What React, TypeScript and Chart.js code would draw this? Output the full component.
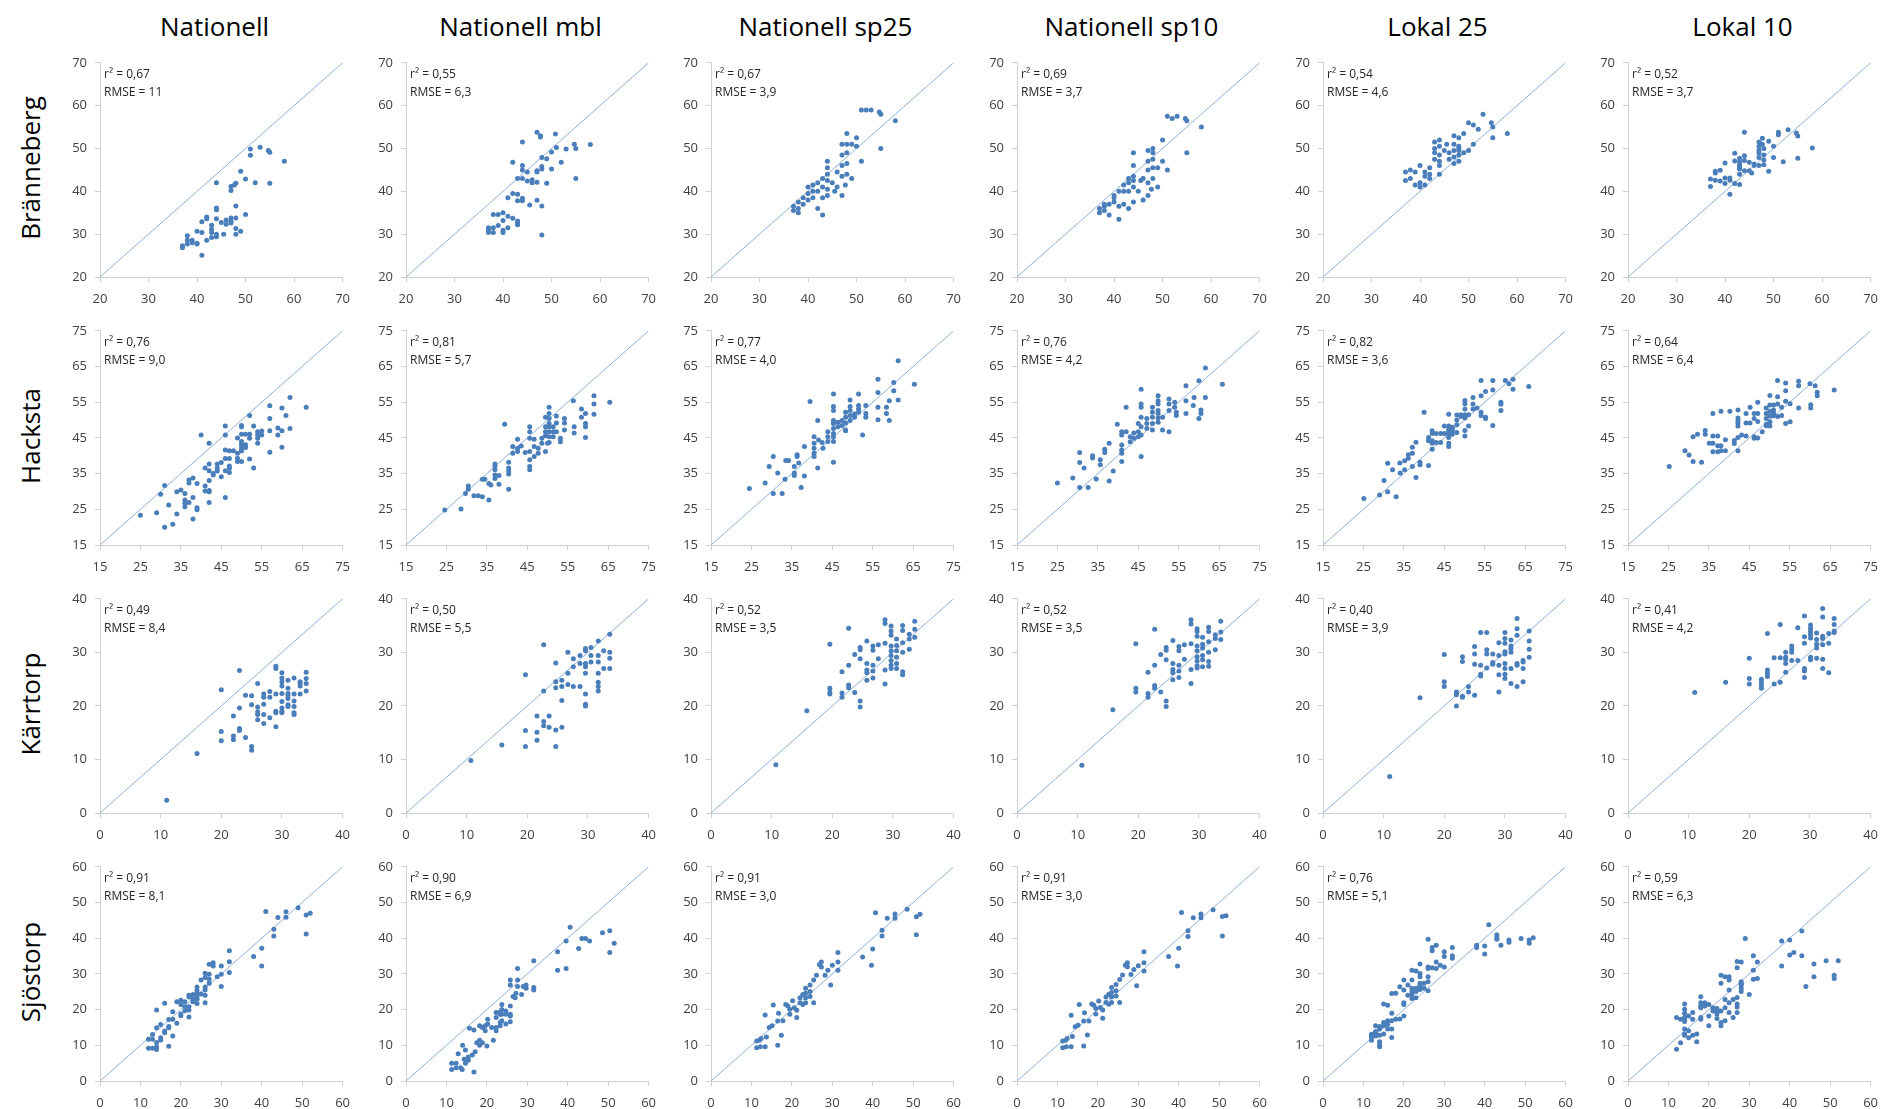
import React, { useEffect, useRef } from "react";
import { Chart, registerables } from "chart.js";

Chart.register(...registerables);

const FONT = "'Open Sans', 'Liberation Sans', sans-serif";

type Pt = [number, number];

const rowNames = ["Bränneberg", "Hacksta", "Kärrtorp", "Sjöstorp"];
const methodNames = ["Nationell", "Nationell mbl", "Nationell sp25", "Nationell sp10", "Lokal 25", "Lokal 10"];

const ticksBranneberg = [20, 30, 40, 50, 60, 70];
const ticksHacksta = [15, 25, 35, 45, 55, 65, 75];
const ticksKarrtorp = [0, 10, 20, 30, 40];
const ticksSjostorp = [0, 10, 20, 30, 40, 50, 60];

const r2Branneberg = ["0,67", "0,55", "0,67", "0,69", "0,54", "0,52"];
const r2Hacksta = ["0,76", "0,81", "0,77", "0,76", "0,82", "0,64"];
const r2Karrtorp = ["0,49", "0,50", "0,52", "0,52", "0,40", "0,41"];
const r2Sjostorp = ["0,91", "0,90", "0,91", "0,91", "0,76", "0,59"];

const rmseBranneberg = ["11", "6,3", "3,9", "3,7", "4,6", "3,7"];
const rmseHacksta = ["9,0", "5,7", "4,0", "4,2", "3,6", "6,4"];
const rmseKarrtorp = ["8,4", "5,5", "3,5", "3,5", "3,9", "4,2"];
const rmseSjostorp = ["8,1", "6,9", "3,0", "3,0", "5,1", "6,3"];

// ---------- Bränneberg ----------
const brNationell: Pt[] = [[37,27.3],[37,26.8],[38,29.6],[38,28.6],[38,27.7],[39,28.6],[39,28],[40,30.7],[40,27.9],[40,27.7],[41,32.9],[41,30.4],[41,25.1],[42,34],[42,33.6],[42,28.6],[43,32.1],[43,31.1],[43,30.4],[43,29.2],[44,42],[44,36.1],[44,35.7],[44,33.6],[44,30],[44,29.4],[45,32.7],[45.5,30],[46,33.3],[46,32.3],[47,41.1],[47,40.2],[47,33.8],[47,33],[47,32.6],[47.7,41.5],[48,41.9],[48,36.6],[48,33.8],[48,31.3],[48,30],[49,44.7],[49,30.7],[50,42.9],[50,34.6],[51,49.9],[51,48.4],[52,42],[53,50.3],[54.7,49.5],[55,49.1],[55,41.9],[58,47]];
const brMbl: Pt[] = [[37,31.5],[37,31],[37,30.4],[38,31.5],[38,30.4],[38,34.6],[39,34.6],[39,32],[40,35],[40,33.2],[40,30.9],[40,30.4],[41,38.5],[41,34.2],[41,31.5],[42,39.5],[42,33.7],[42,46.8],[43,43],[43,39.3],[43,37.8],[43,33.1],[43,32.6],[43,32.2],[44,51.5],[44,46],[44,45],[44,43],[44,38.4],[44,37.8],[45,44.5],[45,42.4],[45.5,36.8],[46,42.7],[46,42],[47,53.8],[47,44.8],[47,44.5],[47,42.1],[47,37.9],[47.7,53],[47.7,52.7],[48,47.9],[48,45.8],[48,45.2],[48,36.6],[48,29.8],[49,47.6],[49,41.9],[50,49.2],[50,45.2],[50.8,53.4],[51,50.2],[52,46.8],[53,49.9],[54.7,51],[55,50],[55,43],[58,50.9]];
const brSp25: Pt[] = [[37,35.5],[37,36.5],[38,36],[38,37.5],[38,35],[39,37],[39,38.5],[40,38],[40,39.5],[40,41],[41,38.5],[41,40],[41,41.5],[42,36],[42,40],[42,42],[43,34.5],[43,38.5],[43,41],[43,43],[44,39],[44,40.5],[44,42.5],[44,44],[44,45.5],[44,47],[45,42],[45.5,40],[46,41],[46,44.5],[47,39],[47,43.5],[47,46],[47,48.5],[47,51],[47.7,41.5],[48,44],[48,46.5],[48,49],[48,51],[48,53.5],[49,43],[49,51],[50,50.5],[50,52.5],[51,59],[51,47],[52,59],[53,59],[54.7,58.5],[55,50],[55,58],[58,56.5]];
const brSp10: Pt[] = [[37,36],[37,35],[38,36.5],[38,35.5],[38,37],[39,37],[39,34.5],[40,37.5],[40,38.5],[40,39],[41,33.5],[41,40],[41,36.5],[42,37],[42,40],[42,41.5],[43,36],[43,40],[43,42],[43,43],[44,37.5],[44,41],[44,42.5],[44,46],[44,49],[44,43.5],[45,40],[45.5,42.5],[46,38],[46,43],[47,39],[47,42],[47,45],[47,47],[47,49.5],[47.7,40.5],[48,43],[48,45.5],[48,47.5],[48,50],[48,49],[49,41],[49,45.5],[50,47],[50,52],[51,57.5],[51,45],[52,57],[53,57.5],[54.7,57],[55,49],[55,56.5],[58,55]];
const brLokal25: Pt[] = [[37,44.5],[37,42.5],[38,45],[38,43],[39,44.5],[39,41.5],[40,46],[40,42],[40,41],[41,43.5],[41,44.5],[41,41.5],[42,45.5],[42,44],[42,43],[43,51.5],[43,50],[43,49],[43,47.5],[44,52],[44,48.5],[44,50.5],[44,46],[44,47],[44,44],[45,49.5],[45.5,51],[46,49],[46,47.5],[47,53],[47,51],[47,49.5],[47,48],[47,46.5],[48,52.5],[48,50],[48,48.5],[48,47],[48,50.5],[48,49.5],[49,53.5],[49,49],[50,56],[50,49.5],[51,55.5],[51,51],[52,54.5],[53,58],[54.7,56],[55,55],[55,52.5],[58,53.5]];
const brLokal10: Pt[] = [[37,42.9],[37,41.1],[38,44.7],[38,44.3],[38,42.6],[39,44.9],[39,42.4],[40,46.6],[40,43.1],[40,41.8],[41,43.1],[41,42.6],[41,39.3],[42,48.9],[42,47.1],[42,41.8],[43,47.7],[43,46.9],[43,46.2],[43,45.6],[43,45.2],[43,44],[43,41.6],[44,53.8],[44,48.3],[44,47.2],[44,44.8],[45,46.8],[45,44.8],[45.5,44.3],[46,46.4],[46,46],[47,51.5],[47,50.5],[47,49.6],[47,48.9],[47,47.9],[47,46],[47.7,52.4],[47.7,51],[48,50],[48,48.5],[48,47.3],[48,46.2],[49,51.7],[49,44.7],[50,50.5],[50,47.9],[51,53.8],[51,53.2],[52,46.9],[53,54.4],[54.7,53.6],[55,52.9],[55,47.7],[58,50.1]];

// ---------- Hacksta ----------
const haNationell: Pt[] = [[25,23.3],[29,24],[30,29.2],[31,31.7],[31,20],[32,26.2],[33,20.8],[34,23.7],[34,29.9],[35,30.4],[36,29.4],[36,27.6],[36,26.7],[36,25.7],[37,33.2],[37,32.4],[37,26.9],[38,33.8],[38,28.3],[38,22.3],[39,32.2],[39,25.4],[39,24.9],[40,45.8],[41,36.6],[41,31.5],[41,30.1],[42,43.5],[42,37.7],[42,35.8],[42,33.1],[42,30.3],[42,29.9],[42,26.9],[43,35],[43,34.6],[44,37.7],[44,36.6],[44,35.7],[45,38.1],[45,34.1],[46,48.3],[46,45.8],[46,41.6],[46,39.2],[46,35.8],[46,28.3],[47,41.4],[47,39.2],[47,37.1],[47,36.5],[47,35.3],[48,41.4],[49,45],[49,40.7],[49,39.3],[49,38.4],[50,48.5],[50,48.1],[50,46],[50,44],[50,43.1],[50,42.2],[50,41.3],[50,38.4],[51,46],[51,43.1],[51,42.3],[52,51.3],[52,46],[52,44.9],[52,39.1],[53,48.3],[53,36.6],[54,46.7],[54,45.8],[54,44.9],[54,43.5],[55,46.9],[55,45.8],[57,54],[57,50.4],[57,47],[57,41],[59,45.8],[59,47.8],[60,53.4],[60,47],[60,42.4],[61,51.3],[62,56.3],[62,47.6],[66,53.6]];
const haMbl: Pt[] = [[24.6,24.8],[28.6,25.1],[29.7,29.4],[30.4,30.6],[30.4,31.5],[31.8,28.8],[32.9,28.8],[33.9,28.5],[33.9,33.4],[34.5,33.4],[35.5,27.6],[35.5,32.2],[36,31.8],[37,33.6],[37,34.6],[37,36.1],[37,37],[37,37.7],[38,32],[38,34.5],[39.4,48.8],[40.4,38.2],[40.4,36.6],[40.4,35.7],[40.4,34.9],[40.4,30.6],[41.4,40.7],[41.4,42.6],[42.6,44.6],[42.6,41.2],[42.6,42.1],[43.5,42.7],[44.5,40.9],[45.6,48.1],[45.6,46.7],[45.6,44.9],[45.6,41.2],[45.6,38.9],[45.6,37],[45.6,36.1],[46.7,44.6],[46.7,42.6],[46.7,39.8],[47.7,42.1],[47.7,40.7],[48.6,43.5],[48.6,44.9],[49.5,50.8],[49.5,48.1],[49.5,46.7],[49.5,45.6],[49.5,41.2],[50,43.5],[50.4,53.6],[50.4,51.8],[50.4,50.4],[50.4,49],[50.4,48.1],[50.4,46.7],[50.4,45.3],[50.4,43.7],[51.4,48.1],[51.4,46.7],[51.4,45.3],[52.2,51.1],[52.2,49.2],[52.2,46.7],[53.2,44.9],[53.2,43.9],[54.2,50.4],[54.2,49.2],[54.2,47.2],[56.4,55.4],[56.6,48.1],[56.6,46.4],[58.4,53.1],[58.4,50.8],[59.4,45.1],[59.4,51.8],[59.4,49],[59.4,48.1],[61.5,56.8],[61.5,54.5],[61.5,51.6],[65.4,55]];
const haSp25: Pt[] = [[24.5,30.8],[28.4,32.4],[29.4,37],[30.4,39.8],[30.4,29.4],[32.6,29.4],[31.5,35.2],[33.3,33.4],[33.5,38.7],[34.2,38.7],[35.6,37],[35.6,35.2],[35.6,34.5],[36.3,40.3],[36.3,39.8],[36.7,38],[37.3,31.1],[38.1,42.6],[38.1,34.3],[39.5,55.2],[40.5,45.3],[40.5,43.5],[40.5,42.1],[40.5,40.7],[40.5,39.8],[41.4,49.9],[41.4,36.6],[41.6,44.4],[42.5,43.7],[42.7,42.1],[43.9,46.7],[43.9,45.3],[43.9,44],[45.3,57.3],[45.3,53.8],[45.3,52.7],[45.3,49.9],[45.3,49],[45.3,47.6],[45.3,46.2],[45.3,45.3],[45.3,44],[45.3,38.2],[46.4,49.4],[46.4,48.1],[47.4,49.9],[47.4,48.5],[48.3,52.2],[48.3,50.8],[48.3,49.2],[48.3,47.2],[48.3,47],[49.4,55.6],[49.4,53.8],[49.4,52.7],[49.4,51.3],[49.4,49.9],[50.5,51.7],[50.5,50.8],[51.5,57.3],[51.5,54.1],[51.5,53.1],[51.5,52.2],[52.5,45.8],[53.3,54.1],[53.3,51.8],[53.3,50.8],[56.3,61.4],[56.3,57.7],[56.3,53.6],[56.3,50.1],[58.4,51.8],[58.4,53.6],[59.1,55.4],[59.1,49.9],[60.2,58.2],[60.2,60.5],[61.3,66.6],[61.3,55.6],[65.3,60]];
const haSp10: Pt[] = [[25,32.4],[28.8,33.8],[30.5,40.9],[30.5,38.1],[30.5,31.1],[32.6,31.1],[31.6,36.6],[33.7,40],[33.7,39.4],[34.6,33.5],[35.6,38.9],[35.6,37.5],[36.7,41.8],[36.7,40.9],[37.8,43.5],[37.8,32.9],[38.8,35.7],[39.8,48.8],[40.9,46.7],[40.9,45.8],[40.9,43],[40.9,41.6],[40.9,40.7],[40.9,38.4],[42,53.6],[42,46.7],[43,45.3],[43,43.9],[43.9,46.4],[43.9,44.9],[45,49],[45,46.7],[45,45.3],[45.7,58.6],[45.7,54.5],[45.7,53.6],[45.7,50.8],[45.7,48.1],[45.7,45.8],[45.7,39.8],[47.1,50.4],[47.1,49],[47.1,47.6],[48.5,53.6],[48.5,52.2],[48.5,50.8],[48.5,49],[48.5,47.2],[49.9,56.8],[49.9,55.4],[49.9,54.5],[49.9,52.7],[49.9,51.8],[49.9,50.6],[49.9,49.4],[51,50.8],[51,47.2],[52.6,55.9],[52.6,52.7],[52.6,54.5],[52.6,46.7],[54,55],[54,53.6],[54.4,52.2],[54.4,51.3],[56.8,59.6],[56.8,55.4],[56.8,51.8],[58.6,54.1],[58.8,56.3],[60,61],[60,50.4],[60.5,51.8],[60.5,52.8],[61.6,64.6],[61.6,56.3],[65.8,60]];
const haLokal25: Pt[] = [[25.1,28],[29,29],[30.1,33.1],[31,29.9],[31,37.9],[32.2,36.1],[33.1,28.5],[34,38],[34.1,35.2],[35.2,38.6],[35.2,36.1],[36.1,40.3],[36.1,39.3],[37.1,40.7],[37.1,42.4],[37.1,37],[38,43.8],[38,33.9],[39,38.2],[39,37.5],[40,52.2],[41.1,45.1],[41.1,44.2],[41.1,37.3],[42,47],[42,46.2],[42,44.2],[42,43.5],[42,41.8],[43,46.2],[43,43.7],[44.1,46.2],[44.1,43.7],[45,48.3],[45,46.2],[46.1,51.6],[46.1,42.6],[46.1,43.5],[46.1,48.3],[46.1,47.8],[46.1,47.1],[46.1,46.5],[46.1,45.8],[46.1,45.1],[47,47.1],[47,48],[47,46],[48.1,51.4],[48.1,50],[48.1,48.7],[48.1,46.5],[49.1,51.5],[49.1,51],[50.1,55.5],[50.1,54.6],[50.1,53.1],[50.1,51.5],[50.1,50.6],[50.1,47.1],[50.1,45.5],[51,51.5],[51,48.3],[52.1,56.3],[52.1,54.5],[52.1,53.1],[53.1,53.4],[54.1,61.1],[54.1,56.8],[54.1,52.2],[54.1,51.3],[55.2,58],[55.2,50.8],[55.2,50.4],[57,61.1],[57,58.4],[57,48.5],[59,55],[59,54.4],[59,52.7],[60.1,61.1],[61,60.2],[62,61.4],[62,58.6],[65.9,59.4]];
const haLokal10: Pt[] = [[25.2,37],[29.1,41.4],[30.1,40.2],[31.1,38.4],[31.1,45.3],[32.2,46],[33.2,38.2],[34.1,47.1],[34.1,46],[35.1,43.5],[36,51.8],[36,45.5],[36,43.5],[36,41.1],[37.2,45.5],[37.2,42.8],[37.2,41.1],[38,52.5],[38,41.4],[38,42.8],[39.1,44.5],[39.1,41.4],[40.2,52.5],[41.3,44.3],[41.3,43.4],[42.2,52.8],[42.2,50.6],[42.2,49.8],[42.2,49.2],[42.2,48.3],[42.2,45.1],[42.2,41.4],[43.1,45.8],[44.2,51.8],[44.2,49.2],[44.2,45.5],[45.2,53.6],[45.2,49.2],[46.2,51.8],[46.2,50.4],[46.2,45.3],[46.2,44.9],[47.1,55],[47.1,51.8],[47.1,49.6],[47.1,45],[48.2,46.7],[49.2,53.4],[49.2,51.8],[49.2,50.4],[49.2,48.8],[49.2,48.4],[50.1,56.9],[50.1,54.2],[50.1,52.5],[50.1,51.1],[50.1,49.5],[50.1,48.3],[51,54.2],[51,52.8],[51,51.9],[51,51.2],[52,61.1],[52,56.5],[52,54.5],[52,51],[53,53.6],[53,51.3],[54,60.4],[54,58.2],[54,55.3],[54,49],[55.1,54.6],[55.1,49.5],[57.2,60.9],[57.2,59.6],[57.2,53.4],[60,60.2],[61.3,59.6],[61.8,57.8],[61.8,56.8],[60.2,54.3],[60.2,53.4],[66,58.4]];

// ---------- Kärrtorp ----------
const kaNationell: Pt[] = [[11,2.4],[16,11.1],[20,23],[20,15.2],[20,13.5],[22,18.1],[22,14.4],[22,13.7],[23,26.6],[23,19.6],[23,15.8],[23,15.4],[24,22],[24,14.1],[25,21.9],[25,20.2],[25,12.4],[25,11.7],[26,24.2],[26,19.8],[26,18.9],[26,18.4],[26,17.4],[27,22.2],[27,21.6],[27,20.3],[27,18.4],[27,16.7],[28,22.7],[28,21.6],[28,17.8],[29,27.4],[29,27],[29,22.2],[29,19],[29,18.7],[29,16.1],[30,26.2],[30,25.2],[30,24.5],[30,23.7],[30,22.3],[30,20.8],[30,19.6],[30,19],[30,18.7],[31,24.8],[31,23.3],[31,22.3],[31,21.9],[31,21.4],[31,20.2],[31,19.9],[32,25.2],[32,22.2],[32,20.9],[32,19.9],[32,18.7],[32,18.4],[33,24.5],[33,24.2],[33,23.7],[33,22.2],[34,26.3],[34,25.1],[34,24.2],[34,22.8]];
const kaMbl: Pt[] = [[10.7,9.8],[15.8,12.7],[19.7,25.8],[19.7,15.4],[19.7,12.4],[21.6,18.1],[21.6,15.1],[21.6,13.6],[22.7,31.4],[22.7,22.8],[22.7,17.1],[22.7,16.3],[23.6,18.1],[23.6,16],[24.7,28],[24.7,24.5],[24.7,23.4],[24.7,15.5],[24.7,12.4],[25.7,24.8],[25.7,23.6],[25.7,21],[25.7,16],[26.7,30],[26.7,26.1],[26.7,24],[27.6,28.8],[27.6,27.3],[27.6,23.6],[28.7,27.9],[28.7,23.6],[28.7,29.4],[29.6,20],[29.6,20.3],[29.6,30.7],[29.6,30.3],[29.6,27.9],[29.6,27.3],[29.6,26.1],[29.6,22.2],[30.5,30.9],[30.5,28.2],[30.5,29.4],[31.7,32.1],[31.7,29.4],[31.7,28.2],[31.7,26.1],[31.7,24.4],[31.7,23.6],[31.7,22.8],[32.6,30.3],[32.6,27],[33.6,33.4],[33.6,30],[33.6,28.9],[33.6,27]];
const kaSp25: Pt[] = [[10.7,9],[15.8,19.1],[19.6,31.5],[19.6,23.3],[19.6,22.6],[19.6,22.2],[21.6,26.4],[21.6,22.4],[21.6,21.6],[22.7,34.5],[22.7,27.6],[22.7,23.9],[22.7,23.4],[23.7,29.6],[23.7,22.5],[24.6,30.9],[24.6,30.5],[24.6,28.8],[24.6,20.9],[24.6,19.8],[25.7,32.1],[25.7,27.9],[25.7,26.7],[25.7,26.2],[25.7,24.8],[26.7,31.2],[26.7,30.4],[26.7,27.6],[26.7,26.5],[26.7,25.2],[27.6,31.4],[27.6,28.8],[28.7,31.7],[28.7,24.1],[28.7,36.1],[28.7,35.4],[28.7,26.7],[29.7,34.9],[29.7,34],[29.7,33.2],[29.7,31.2],[29.7,30.3],[29.7,29.4],[29.7,28.5],[29.7,27.6],[29.7,27],[30.6,32.5],[30.6,31.3],[30.6,30.3],[30.6,29.1],[30.6,27.9],[30.6,27],[31.6,35],[31.6,34.1],[31.6,31.8],[31.6,30],[31.6,26.4],[31.6,25.8],[32.7,33.4],[32.7,32.5],[32.7,30.6],[33.6,35.8],[33.6,34.3],[33.6,32.8]];
const kaSp10: Pt[] = [[10.7,8.9],[15.8,19.3],[19.6,31.6],[19.6,23.3],[19.6,22.6],[21.6,26.3],[21.6,22.3],[21.6,21.6],[22.7,34.3],[22.7,27.6],[22.7,23.8],[22.7,23.3],[23.7,29.6],[23.7,22.6],[24.6,30.9],[24.6,30.4],[24.6,28.6],[24.6,20.9],[24.6,19.9],[25.7,32.2],[25.7,27.9],[25.7,26.8],[25.7,26.2],[25.7,24.9],[26.7,31.1],[26.7,30.3],[26.7,27.6],[26.7,26.5],[26.7,25.3],[27.6,31.4],[27.6,28.7],[28.7,31.6],[28.7,24.2],[28.7,36.1],[28.7,35.3],[28.7,26.8],[29.7,34.4],[29.7,33.9],[29.7,33],[29.7,31.2],[29.7,30.3],[29.7,29.2],[29.7,28.4],[29.7,27.5],[29.7,27.1],[30.6,32.8],[30.6,31.5],[30.6,30.8],[30.6,29.4],[30.6,28.6],[30.6,27.3],[31.6,34.7],[31.6,33.9],[31.6,32],[31.6,30],[31.6,28.3],[31.6,27.4],[32.7,33.3],[32.7,32.6],[32.7,30.5],[33.6,35.8],[33.6,33.8],[33.6,32.4]];
const kaLokal25: Pt[] = [[11,6.8],[16,21.5],[20,29.6],[20,24.5],[20,23.6],[22,22.6],[22,22.1],[22,20],[23,29.2],[23,28.3],[23,21.8],[23,21.6],[24,23.6],[24,22.6],[25,31.1],[25,27.8],[25,29.7],[25,22],[26,33.7],[26,27.6],[26,25.9],[26,25.6],[27,33.7],[27,30.5],[27,29.7],[27,27.1],[28,29.7],[28,28.1],[28,27.8],[29,31.8],[29,29.4],[29,27.6],[29,25.8],[29,22.6],[30,33.7],[30,32.6],[30,31.7],[30,30.1],[30,29.7],[30,27.9],[30,27],[30,25.9],[30,25.1],[31,32.3],[31,31.2],[31,30.7],[31,30],[31,27],[31,24.2],[32,36.3],[32,34.4],[32,33.2],[32,27.9],[32,27.6],[32,23.6],[33,28.5],[33,28.2],[33,27],[33,24.5],[34,34],[34,32.1],[34,30.6],[34,29.1]];
const kaLokal10: Pt[] = [[11,22.5],[16.1,24.4],[20,28.9],[20,25.1],[20,24.1],[22,25],[22,24.5],[22,23.9],[22,23.3],[23,33.5],[23,26.7],[23,26.1],[23,25.5],[24.1,29],[24.1,24.1],[25.1,35.2],[25.1,29],[25.1,24.4],[26,30],[26,29.1],[26,28.7],[26,27.9],[26,26.3],[27,31.2],[27,30.6],[27,30],[27,28.5],[28,34.6],[28,28.5],[29.1,36.8],[29.1,32.9],[29.1,31.7],[29.1,27],[29.1,26.5],[29.1,25.3],[30.1,35.1],[30.1,34.5],[30.1,33.9],[30.1,33.3],[30.1,32.7],[30.1,29.1],[30.1,28.6],[31.1,33.6],[31.1,32.4],[31.1,31.5],[31.1,30.8],[31.1,28.9],[32.1,38.2],[32.1,36.6],[32.1,33],[32.1,32.6],[32.1,31.4],[32.1,28.7],[32.1,27],[33.1,33.5],[33.1,31.7],[33.1,26.2],[34,36.3],[34,35.2],[34,34],[34,33.7]];

// ---------- Sjöstorp ----------
const sjNationell: Pt[] = [[12,11.7],[12,9.2],[13,11.7],[13,9.2],[13,13],[14,19.9],[14,14.9],[14,10.8],[14,9.6],[14,8.8],[15,15.8],[15,12.1],[15,11.5],[16,21.8],[16,14],[16,13.5],[17,17.2],[17,15.3],[17,14.9],[17,9.7],[18,19.4],[18,17.3],[18,12.6],[19,22.2],[19,16.2],[20,22.6],[20,21.4],[20,18.8],[20,18.3],[21,20.8],[21,19.7],[21,22.2],[22,24],[22,23.5],[22,20.8],[22,19.9],[22,17.9],[23,24.2],[23,23.1],[23,22.6],[23,22.2],[24,26.3],[24,25.4],[24,24.6],[24,23.5],[24,22.9],[24,21.7],[25,28.3],[25,24.4],[26,30.2],[26,29],[26,26.3],[26,25.5],[26,24],[26,21.9],[27,32.7],[27,29.9],[27,28.5],[27,27.4],[28,33.1],[28,32.2],[29,29.2],[30,32.2],[30,29.9],[30,26.5],[32,36.5],[32,33.4],[32,30.4],[38,34.9],[40,37.2],[40,32.2],[41,47.5],[43,42.5],[43,40.6],[44,45.8],[46,47.4],[46,45.9],[49,48.5],[51,46.5],[51,41.2],[52,47]];
const sjMbl: Pt[] = [[11.3,5],[11.3,3.2],[12.4,3.7],[12.4,5],[12.9,7.6],[13.5,3.7],[13.9,3.2],[14,10],[14.4,6.1],[14.7,5],[14.7,8.7],[15.4,6.7],[15.4,5.8],[16.4,7.3],[15.7,14.8],[16.8,14.3],[16.8,2.5],[17.1,8.2],[17.5,10.7],[18.2,15.5],[18.2,11.4],[18.2,10],[18.9,15],[18.9,10.7],[19.6,15.5],[19.6,14.1],[20,9.8],[20.2,17.3],[20.2,16],[21.2,15],[21.6,11.4],[22.3,19.2],[22.3,17.8],[22.3,15],[22.3,14.1],[23.3,18.7],[23.3,19.3],[23.3,16.4],[23.3,15.5],[23.7,21.4],[23.7,20],[23.7,18.7],[23.7,16.9],[24.7,19.6],[24.7,18.7],[24.7,16],[25.8,18.7],[25.8,21],[25.8,18.2],[25.8,16.6],[25.8,28.3],[25.8,26.9],[26.5,23.7],[27,23.3],[27.2,24.6],[27.6,31.5],[27.6,28.3],[27.6,26.5],[28.6,24.2],[29,26.5],[29.7,26.9],[29.7,26],[31.6,26.2],[31.6,25.5],[31.6,33.7],[37.5,31],[37.5,36.2],[39.6,31.5],[39.6,39.2],[40.6,43.1],[42.7,37.1],[43.5,39.9],[44.4,39.9],[45.4,39.2],[48.6,41.5],[50.4,42.1],[50.4,36],[51.5,38.6]];
const sjSp25: Pt[] = [[11.3,9.3],[12.2,9.6],[13.4,9.6],[12,11.4],[11.3,11.2],[12.4,11.9],[13.7,12.3],[13.4,18.5],[14.4,15],[15.1,15.5],[15.4,21.3],[16.5,16.8],[16.7,19],[16.5,10],[17.4,12.8],[17.8,16.9],[18.5,21.4],[19,21],[19.5,18.7],[19.5,20.1],[20.2,22.5],[20.6,20.5],[21.2,17.8],[21.2,19.8],[22,23.3],[22,21.9],[22.7,24.2],[22.7,21.4],[23.4,26],[23.4,24.6],[23.4,23.3],[23.4,21.9],[24.5,26.9],[24.5,25.1],[24.5,23.7],[25.4,21.9],[25.4,28.3],[26.1,29.6],[26.8,32.6],[27.3,33.3],[27.3,31.9],[28.2,29.6],[28.9,31],[29.6,26.9],[30,32.4],[31.4,36],[31.4,33.3],[31.4,31],[37.5,34.7],[39.7,32.4],[40,37],[40.7,47.1],[42.3,42.2],[42.3,40.6],[43.6,45.6],[45.5,46.8],[45.5,45.6],[48.5,48.1],[50.8,46],[51.7,46.7],[50.8,41]];
const sjSp10: Pt[] = [[11.3,9.3],[12.2,9.6],[13.4,9.6],[12,11.4],[11.3,11.2],[12.4,11.9],[13.7,12.5],[13.4,18.4],[14.4,15.2],[15.1,15.6],[15.4,21.4],[16.5,16.8],[16.7,19.1],[16.5,9.8],[17.4,12.9],[17.8,16.8],[18.5,21.6],[19,21.2],[19.5,18.8],[19.5,20.3],[20.2,22.4],[20.6,20.6],[21.2,17.6],[21.2,19.9],[22,23.5],[22,22],[22.7,24.3],[22.7,21.5],[23.4,26.2],[23.4,24.8],[23.4,23.5],[23.4,22],[24.5,27],[24.5,25.3],[24.5,23.8],[25.4,22],[25.4,28.4],[26.1,29.7],[26.8,32.4],[27.3,33.1],[27.3,32],[28.2,29.8],[28.9,31.2],[29.6,26.7],[30,32.3],[31.4,36.2],[31.4,33.1],[31.4,30.8],[37.5,34.9],[39.7,32.2],[40,37.2],[40.7,47.2],[42.3,42.1],[42.3,40.5],[43.6,45.7],[45.5,46.8],[45.5,45.7],[48.5,48],[50.8,46.1],[51.7,46.3],[50.8,40.6]];
const sjLokal25: Pt[] = [[12,12.3],[12,11.4],[12,13.1],[12,12.8],[13,13.4],[13,13.9],[13,15.5],[13,12.6],[14,11],[14,14.6],[14,12.8],[14,10.2],[14,9.6],[14,15.3],[15,21.6],[15,13.2],[15,15.5],[15,16.4],[16,21.2],[16,16.9],[16,14.6],[16,15.8],[17,24.5],[17,19],[17,16.9],[17,14.6],[17,12.2],[18,24.6],[18,17.3],[19,17.4],[19,26.4],[20,28.3],[20,25.5],[20,21.9],[20,21.4],[20,18.2],[21,26.9],[21,24],[22,31],[22,25.1],[22,24.2],[22,23.1],[22,28.3],[22,26],[23,30.8],[23,26],[23,25.1],[23,23.3],[24,30.1],[24,26.5],[24,25.6],[24,32.8],[24,29.2],[24,27.4],[24,26.9],[25,27.4],[25,26],[26,39.7],[26,31.9],[26,31.5],[26,29.2],[26,27.8],[26,25.3],[27,37.4],[27,36.5],[27,31.7],[28,38],[28,33.3],[28,31.5],[29,32.4],[30,31.9],[30,36.2],[30,34.9],[32,37.4],[32,35.1],[32,34.4],[38,38],[38,37.4],[40,37.8],[40,35.6],[41,43.8],[43,41],[43,40.1],[43,39.7],[44,38],[46,39.5],[46,38.9],[49,39.9],[51,39.5],[51,38.6],[52,40.1]];
const sjLokal10: Pt[] = [[12,17.8],[13,17.3],[14,17.8],[12,8.9],[13,10.7],[14,21.6],[14,20.1],[14,19],[14,17.3],[14,16.7],[14,14.6],[14,13.2],[14,12.8],[15,18.2],[15,14.1],[15,12.1],[16,19.2],[16,17.3],[16,12.8],[17,13.2],[17,11],[18,23.6],[18,21],[18,21.9],[18,20.5],[18,17.8],[18,17.3],[19,21.9],[19,21],[20,21.4],[20,18.2],[20,15.5],[21,20.5],[21,19.6],[22,20.3],[22,19.5],[22,18.8],[22,17.5],[23,29.6],[23,27.4],[23,19.6],[23,16.4],[23,15.5],[24,29.2],[24,22.8],[24,20.5],[24,16.9],[25,29.2],[25,28.3],[25,25.5],[25,21.9],[25,19.2],[26,22.8],[26,17.8],[27,23.4],[27,21.6],[27,20.7],[27,19.2],[27,31.7],[27,33.5],[28,26.9],[28,26],[28,25.1],[28,33.3],[28,27.8],[28,27.4],[28,27.1],[29,39.9],[30,24.2],[31,35.1],[31,31],[31,28.5],[32,33.3],[32,28.7],[38,32.2],[38,39.2],[40,39.5],[40,35.3],[41,36],[43,42],[43,35.1],[44,26.5],[46,32.8],[46,29.2],[49,33.7],[51,29.6],[51,28.7],[52,33.7]];

const rowTicks = [ticksBranneberg, ticksHacksta, ticksKarrtorp, ticksSjostorp];
const rowR2 = [r2Branneberg, r2Hacksta, r2Karrtorp, r2Sjostorp];
const rowRmse = [rmseBranneberg, rmseHacksta, rmseKarrtorp, rmseSjostorp];
const panelData: Pt[][][] = [
  [brNationell, brMbl, brSp25, brSp10, brLokal25, brLokal10],
  [haNationell, haMbl, haSp25, haSp10, haLokal25, haLokal10],
  [kaNationell, kaMbl, kaSp25, kaSp10, kaLokal25, kaLokal10],
  [sjNationell, sjMbl, sjSp25, sjSp10, sjLokal25, sjLokal10],
];

// layout (pixels)
const COL_LEFT = [100, 406, 711, 1017, 1323, 1628];
const ROW_TOP = [59, 327, 595, 863];
const PLOT_W = 249;
const PLOT_H = 218;
const AXIS_W = 45;
const PAD_TOP = 12;
const PAD_RIGHT = 10;
const AXIS_H = 28;
const CANVAS_W = AXIS_W + PLOT_W + PAD_RIGHT;
const CANVAS_H = PAD_TOP + PLOT_H + AXIS_H;

const POINT_COLOR = "#4a7ebb";
const LINE_COLOR = "#8bb0de";
const AXIS_COLOR = "#d0d0d0";
const TEXT_COLOR = "#404040";

function Panel({ row, col }: { row: number; col: number }) {
  const ref = useRef<HTMLCanvasElement>(null);
  useEffect(() => {
    if (!ref.current) return;
    const ticks = rowTicks[row];
    const min = ticks[0];
    const max = ticks[ticks.length - 1];
    const pts = panelData[row][col];
    const r2 = rowR2[row][col];
    const rmse = rowRmse[row][col];

    const statsPlugin = {
      id: "stats",
      afterDatasetsDraw(chart: any) {
        const { ctx, chartArea } = chart;
        ctx.save();
        ctx.fillStyle = "#262626";
        ctx.font = `12px ${FONT}`;
        ctx.textAlign = "left";
        ctx.textBaseline = "middle";
        ctx.fillText(`r² = ${r2}`, chartArea.left + 4, chartArea.top + 12);
        ctx.fillText(`RMSE = ${rmse}`, chartArea.left + 4, chartArea.top + 30);
        ctx.restore();
      },
    };

    const axis = (which: "x" | "y") => ({
      type: "linear" as const,
      min,
      max,
      afterBuildTicks: (s: any) => {
        s.ticks = ticks.map((v) => ({ value: v }));
      },
      afterFit: (s: any) => {
        if (which === "x") s.height = AXIS_H;
        else s.width = AXIS_W;
      },
      ticks: {
        color: TEXT_COLOR,
        font: { family: FONT, size: 13 },
        padding: which === "x" ? 9 : 8,
        autoSkip: false,
        maxRotation: 0,
        callback: (v: any) => String(v),
      },
      grid: {
        drawOnChartArea: false,
        drawTicks: true,
        tickLength: 5,
        color: AXIS_COLOR,
      },
      border: { display: true, color: AXIS_COLOR, width: 1 },
    });

    const chart = new Chart(ref.current, {
      type: "scatter",
      data: {
        datasets: [
          {
            data: pts.map(([x, y]) => ({ x, y })),
            pointRadius: 2.5,
            pointHoverRadius: 2.5,
            pointBackgroundColor: POINT_COLOR,
            pointBorderWidth: 0,
            backgroundColor: POINT_COLOR,
          },
          {
            data: [
              { x: min, y: min },
              { x: max, y: max },
            ],
            showLine: true,
            borderColor: LINE_COLOR,
            borderWidth: 1,
            pointRadius: 0,
            pointHoverRadius: 0,
          },
        ],
      },
      options: {
        responsive: false,
        animation: false,
        devicePixelRatio: 1,
        layout: { padding: { left: 0, top: PAD_TOP, right: PAD_RIGHT, bottom: 0 } },
        plugins: { legend: { display: false }, tooltip: { enabled: false } },
        events: [],
        scales: { x: axis("x") as any, y: axis("y") as any },
      },
      plugins: [statsPlugin],
    });
    return () => chart.destroy();
  }, [row, col]);

  return (
    <canvas
      ref={ref}
      width={CANVAS_W}
      height={CANVAS_H}
      style={{
        position: "absolute",
        left: COL_LEFT[col] - AXIS_W,
        top: ROW_TOP[row] - PAD_TOP,
        width: CANVAS_W,
        height: CANVAS_H,
      }}
    />
  );
}

export default function App() {
  return (
    <div
      style={{
        position: "absolute",
        left: 0,
        top: 0,
        width: 1888,
        height: 1109,
        overflow: "hidden",
        background: "#ffffff",
        fontFamily: FONT,
      }}
    >
      {methodNames.map((name, c) => (
        <div
          key={"t" + c}
          style={{
            position: "absolute",
            left: COL_LEFT[c] + PLOT_W / 2 - 10,
            top: 27,
            transform: "translate(-50%, -50%)",
            fontSize: 26,
            lineHeight: 1.2,
            color: "#000",
            whiteSpace: "nowrap",
          }}
        >
          {name}
        </div>
      ))}
      {rowNames.map((name, r) => (
        <div
          key={"r" + r}
          style={{
            position: "absolute",
            left: 31,
            top: ROW_TOP[r] + PLOT_H / 2,
            transform: "translate(-50%, -50%) rotate(-90deg)",
            fontSize: 26,
            lineHeight: 1.2,
            color: "#000",
            whiteSpace: "nowrap",
          }}
        >
          {name}
        </div>
      ))}
      {rowNames.map((_, r) =>
        methodNames.map((__, c) => <Panel key={`${r}-${c}`} row={r} col={c} />)
      )}
    </div>
  );
}
